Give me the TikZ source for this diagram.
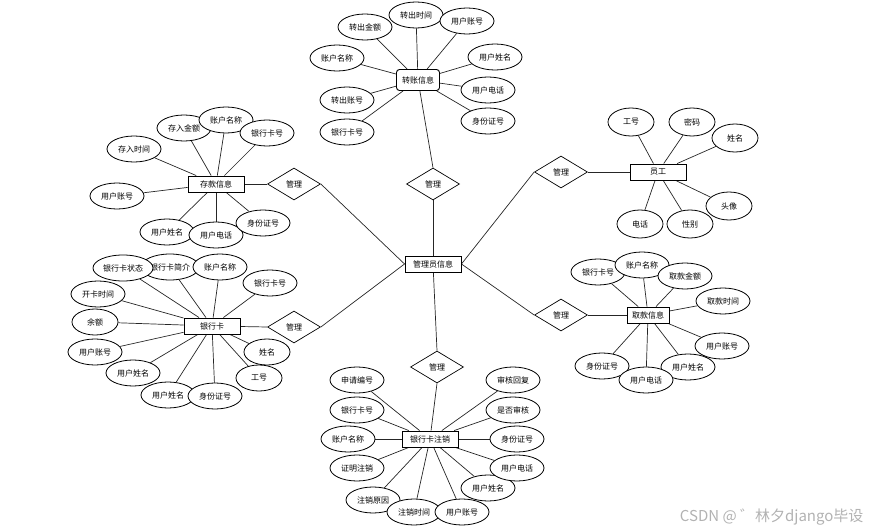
\documentclass[tikz,border=0pt]{standalone}
\usepackage{fontspec}
\newfontfamily\cjk{Noto Sans CJK SC}
\usetikzlibrary{shapes.geometric, backgrounds}

\begin{document}
\begin{tikzpicture}[x=1pt, y=-1pt, font=\cjk\fontsize{8}{9}\selectfont]
        \tikzstyle{entity} = [rectangle, minimum width=56pt, minimum height=16pt, inner sep=0pt, text centered, draw=black, line width=0.9pt, fill=white]
        \tikzstyle{attr} = [ellipse, minimum width=54pt, minimum height=26pt, inner sep=0pt, text centered, draw=black, line width=0.8pt, fill=white]
        \tikzstyle{shortattr} = [attr, minimum width=46pt, minimum height=28pt]
        \tikzstyle{relation} = [diamond, aspect=1.65, minimum width=53pt, minimum height=32pt, inner sep=0pt, text centered, draw=black, line width=0.7pt, fill=white]
        \tikzstyle{link} = [line width=0.7pt, draw=black!85]

        \useasboundingbox (0,0) rectangle (871,532);

        % entities and relations
        \node (mgr) [entity] at (433,264) {管理员信息};
        \node (r1) [relation] at (433,184) {管理};
        \node (r2) [relation] at (294,184) {管理};
        \node (r3) [relation] at (561,172) {管理};
        \node (r4) [relation] at (294,327) {管理};
        \node (r5) [relation] at (561,315) {管理};
        \node (r6) [relation] at (437,367) {管理};

        \node (zz) [entity, rounded corners=3pt, minimum width=43pt, minimum height=21pt] at (418,80) {转账信息};
        \node (ck) [entity] at (216,184) {存款信息};
        \node (yhk) [entity] at (212,326) {银行卡};
        \node (zx) [entity] at (430,439) {银行卡注销};
        \node (yg) [entity] at (658,172) {员工};
        \node (qk) [entity, minimum width=42pt] at (648,315) {取款信息};

        % 转账信息
        \node (zz1) [attr] at (365,27) {转出金额};
        \node (zz2) [attr] at (416,15) {转出时间};
        \node (zz3) [attr] at (467,21) {用户账号};
        \node (zz4) [attr] at (337,58) {账户名称};
        \node (zz5) [attr] at (495,57) {用户姓名};
        \node (zz6) [attr] at (347,100) {转出账号};
        \node (zz7) [attr] at (488,90) {用户电话};
        \node (zz8) [attr] at (347,132) {银行卡号};
        \node (zz9) [attr] at (488,121) {身份证号};

        % 存款信息
        \node (ck1) [attr] at (134,149) {存入时间};
        \node (ck2) [attr] at (184,128) {存入金额};
        \node (ck3) [attr] at (226,120) {账户名称};
        \node (ck4) [attr] at (267,133) {银行卡号};
        \node (ck5) [attr] at (117,196) {用户账号};
        \node (ck6) [attr] at (167,232) {用户姓名};
        \node (ck7) [attr] at (216,235) {用户电话};
        \node (ck8) [attr] at (263,223) {身份证号};

        % 银行卡
        \node (yhk1) [attr, minimum width=58pt] at (170,267) {银行卡简介};
        \node (yhk2) [attr, minimum width=60pt] at (123,268) {银行卡状态};
        \node (yhk3) [attr] at (220,267) {账户名称};
        \node (yhk4) [attr] at (270,283) {银行卡号};
        \node (yhk5) [attr] at (98,294) {开卡时间};
        \node (yhk6) [shortattr, minimum height=26pt] at (95,322) {余额};
        \node (yhk7) [attr] at (95,352) {用户账号};
        \node (yhk8) [attr] at (133,373) {用户姓名};
        \node (yhk9) [shortattr, minimum height=26pt] at (267,352) {姓名};
        \node (yhk10) [shortattr, minimum height=26pt] at (259,378) {工号};
        \node (yhk11) [attr] at (168,395) {用户姓名};
        \node (yhk12) [attr] at (215,396) {身份证号};

        % 银行卡注销
        \node (zx1) [attr] at (357,380) {申请编号};
        \node (zx2) [attr] at (357,410) {银行卡号};
        \node (zx3) [attr] at (348,439) {账户名称};
        \node (zx4) [attr] at (357,468) {证明注销};
        \node (zx5) [attr] at (373,500) {注销原因};
        \node (zx6) [attr] at (414,512) {注销时间};
        \node (zx7) [attr] at (462,512) {用户账号};
        \node (zx8) [attr] at (488,488) {用户姓名};
        \node (zx9) [attr] at (517,468) {用户电话};
        \node (zx10) [attr] at (517,439) {身份证号};
        \node (zx11) [attr] at (513,410) {是否审核};
        \node (zx12) [attr] at (513,380) {审核回复};

        % 员工
        \node (yg1) [shortattr] at (631,122) {工号};
        \node (yg2) [shortattr] at (692,122) {密码};
        \node (yg3) [shortattr] at (735,138) {姓名};
        \node (yg4) [shortattr] at (729,206) {头像};
        \node (yg5) [shortattr] at (640,224) {电话};
        \node (yg6) [shortattr] at (690,224) {性别};

        % 取款信息
        \node (qk1) [attr] at (598,272) {银行卡号};
        \node (qk2) [attr] at (642,265) {账户名称};
        \node (qk3) [attr] at (685,276) {取款金额};
        \node (qk4) [attr] at (723,301) {取款时间};
        \node (qk5) [attr] at (722,346) {用户账号};
        \node (qk6) [attr] at (602,366) {身份证号};
        \node (qk7) [attr] at (688,367) {用户姓名};
        \node (qk8) [attr] at (646,380) {用户电话};

        \node (wm) [anchor=east, text=black!30, font=\cjk\fontsize{15}{17}\selectfont] at (867,517) {CSDN @ ゛林夕django毕设};

        \begin{scope}[on background layer]
            \draw [link] (zz) -- (r1.north);
            \draw [link] (r1.south) -- (mgr);
            \draw [link] (r2.east) -- (mgr.west);
            \draw [link] (r4.east) -- (mgr.west);
            \draw [link] (r3.west) -- (mgr.east);
            \draw [link] (r5.west) -- (mgr.east);
            \draw [link] (mgr) -- (r6.north);
            \draw [link] (r6.south) -- (zx);
            \draw [link] (ck) -- (r2.west);
            \draw [link] (yhk) -- (r4.west);
            \draw [link] (yg) -- (r3.east);
            \draw [link] (qk) -- (r5.east);
            \foreach \i in {1,...,9} \draw [link] (zz\i) -- (zz);
            \foreach \i in {1,...,8} \draw [link] (ck\i) -- (ck);
            \foreach \i in {1,...,12} \draw [link] (yhk\i) -- (yhk);
            \foreach \i in {1,...,12} \draw [link] (zx\i) -- (zx);
            \foreach \i in {1,...,6} \draw [link] (yg\i) -- (yg);
            \foreach \i in {1,...,8} \draw [link] (qk\i) -- (qk);
        \end{scope}
    \end{tikzpicture}
\end{document}
